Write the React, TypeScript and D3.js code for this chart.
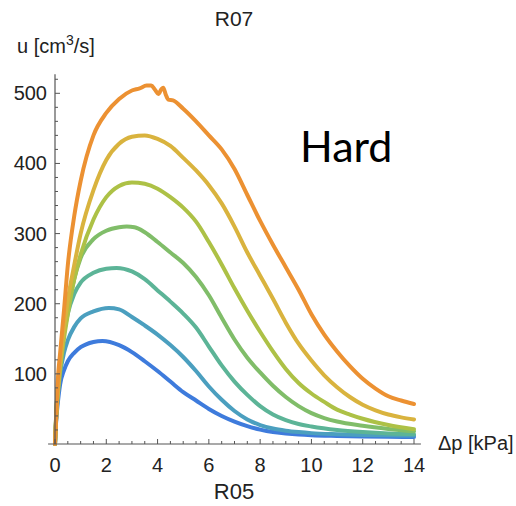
import React from 'react';
import * as d3 from 'd3';

const xMajorTicks = [0, 2, 4, 6, 8, 10, 12, 14];
const yMajorTicks = [100, 200, 300, 400, 500];
const seriesNames = ['s1', 's2', 's3', 's4', 's5', 's6', 's7'];

const s1: [number, number][] = [[0,0],[0.05,35],[0.1,55],[0.2,85],[0.35,105],[0.5,118],[0.75,130],[1,138],[1.5,145.5],[1.85,147],[2.5,141],[3,131],[3.5,118],[4,104],[4.5,89],[5,74],[5.5,62],[6,50],[6.5,40],[7,32],[7.5,25.5],[8,20.5],[8.5,17],[9,15],[9.5,13.5],[10,12.5],[11,11.5],[12,10.8],[13,10.3],[14,10]];
const s2: [number, number][] = [[0,0],[0.05,40],[0.1,65],[0.2,100],[0.35,130],[0.5,148],[0.75,167],[1,179],[1.5,189],[2.1,194],[2.5,192],[3,181],[3.5,169],[4,156],[4.5,141],[5,124],[5.5,104],[6,82],[6.5,63],[7,47],[7.5,35],[8,27],[8.5,22],[9,19],[9.5,17],[10,15.5],[11,14],[12,13],[13,12.5],[14,12]];
const s3: [number, number][] = [[0,0],[0.05,45],[0.1,75],[0.2,115],[0.35,158],[0.5,186],[0.75,214],[1,230],[1.5,244],[2,250],[2.4,251],[3,246],[3.5,235],[4,219],[4.5,203],[5,186],[5.5,166],[6,139],[6.5,112],[7,89],[7.5,70],[8,54],[8.5,42],[9,34],[9.5,28.5],[10,25],[11,20],[12,17],[13,15],[14,14]];
const s4: [number, number][] = [[0,0],[0.05,45],[0.1,75],[0.2,115],[0.35,160],[0.5,192],[0.75,235],[1,265],[1.5,292],[2,304],[2.5,309],[2.8,310],[3.1,309],[3.5,302],[4,288],[4.5,273],[5,258],[5.5,238],[6,212],[6.5,180],[7,149],[7.5,123],[8,102],[8.5,83],[9,67],[9.5,54],[10,44],[10.5,37],[11,32],[12,26],[13,21.5],[14,18]];
const s5: [number, number][] = [[0,0],[0.05,40],[0.1,65],[0.2,105],[0.35,150],[0.5,185],[0.75,235],[1,270],[1.5,320],[2,352],[2.5,368],[3,373],[3.5,371],[4,364],[4.5,352],[5,337],[5.5,317],[6,288],[6.5,256],[7,222],[7.5,190],[8,160],[8.5,132],[9,107],[9.5,87],[10,72],[10.5,60],[11,49],[11.5,42],[12,36],[13,27],[14,21]];
const s6: [number, number][] = [[0,0],[0.05,45],[0.1,72],[0.2,115],[0.35,165],[0.5,205],[0.75,255],[1,300],[1.5,362],[2,405],[2.5,428],[3,438],[3.5,440],[4,435],[4.5,425],[5,408],[5.5,390],[6,369],[6.5,343],[7,310],[7.5,273],[8,240],[8.5,207],[9,173],[9.5,143],[10,119],[10.5,98],[11,81],[11.5,67],[12,56],[12.5,48],[13,42],[13.5,38],[14,35]];
const s7: [number, number][] = [[0,0],[0.05,40],[0.1,85],[0.2,130],[0.35,190],[0.5,255],[0.75,325],[1,375],[1.5,440],[2,472],[2.5,492],[3,504],[3.3,507],[3.57,511],[3.75,511],[3.9,505],[4.03,499],[4.15,506],[4.22,508],[4.32,498],[4.42,491],[4.6,490],[5,478],[5.5,460],[6,440],[6.5,420],[7,392],[7.5,355],[8,318],[8.5,284],[9,252],[9.5,220],[10,185],[10.5,156],[11,132],[11.5,111],[12,93],[12.5,79],[13,68],[13.5,62],[14,57]];

const seriesData = [s1, s2, s3, s4, s5, s6, s7];
const palette = ['#3e7bdc', '#4b9fbf', '#5cb497', '#80bd69', '#adc146', '#d9b33e', '#ec9132'];

export default function App() {
  const x = d3.scaleLinear().domain([0, 14]).range([55, 414]);
  const y = d3.scaleLinear().domain([0, 500]).range([444, 93.3]);
  const line = d3.line<[number, number]>()
    .x(d => x(d[0]))
    .y(d => y(d[1]))
    .curve(d3.curveMonotoneX);

  const xMinor = d3.range(0, 14.01, 0.5).filter(v => !xMajorTicks.includes(v));
  const yMinor = d3.range(20, 521, 20).filter(v => !yMajorTicks.includes(v));
  const axisColor = '#555';
  const font = 'Liberation Sans, Arial, sans-serif';

  return (
    <svg width={516} height={506} style={{ position: 'absolute', left: 0, top: 0, background: '#fff' }}>
      <rect x={0} y={0} width={516} height={506} fill="#fff" />
      {seriesData.map((s, i) => (
        <path key={seriesNames[i]} d={line(s) || ''} fill="none" stroke={palette[i]}
          strokeWidth={4} strokeLinejoin="round" strokeLinecap="round" />
      ))}
      <line x1={x(-0.27)} x2={x(14.27)} y1={y(0)} y2={y(0)} stroke={axisColor} strokeWidth={1.2} />
      <line x1={x(0)} x2={x(0)} y1={y(0)} y2={y(527)} stroke={axisColor} strokeWidth={1.2} />
      {xMajorTicks.map(v => (
        <line key={'xM' + v} x1={x(v)} x2={x(v)} y1={y(0)} y2={y(0) - 5} stroke={axisColor} strokeWidth={1} />
      ))}
      {xMinor.map(v => (
        <line key={'xm' + v} x1={x(v)} x2={x(v)} y1={y(0)} y2={y(0) - 3} stroke={axisColor} strokeWidth={1} />
      ))}
      {yMajorTicks.map(v => (
        <line key={'yM' + v} x1={x(0)} x2={x(0) + 5} y1={y(v)} y2={y(v)} stroke={axisColor} strokeWidth={1} />
      ))}
      {yMinor.map(v => (
        <line key={'ym' + v} x1={x(0)} x2={x(0) + 3} y1={y(v)} y2={y(v)} stroke={axisColor} strokeWidth={1} />
      ))}
      {xMajorTicks.map(v => (
        <text key={'xl' + v} x={x(v)} y={472} textAnchor="middle" fontFamily={font} fontSize={20} fill="#222">{v}</text>
      ))}
      {yMajorTicks.map(v => (
        <text key={'yl' + v} x={47} y={y(v) + 7} textAnchor="end" fontFamily={font} fontSize={20} fill="#222">{v}</text>
      ))}
      <text x={17} y={53} fontFamily={font} fontSize={20} fill="#222">
        u [cm<tspan dy={-8} fontSize={14}>3</tspan><tspan dy={8}>/s]</tspan>
      </text>
      <text x={438} y={450} fontFamily={font} fontSize={20} fill="#222">Δp [kPa]</text>
      <text x={234} y={26} textAnchor="middle" fontFamily={font} fontSize={21} fill="#222">R07</text>
      <text x={234} y={499} textAnchor="middle" fontFamily={font} fontSize={22} fill="#222">R05</text>
      <text x={300} y={162} fontFamily="Lato, sans-serif" fontSize={43} fill="#000">Hard</text>
    </svg>
  );
}
